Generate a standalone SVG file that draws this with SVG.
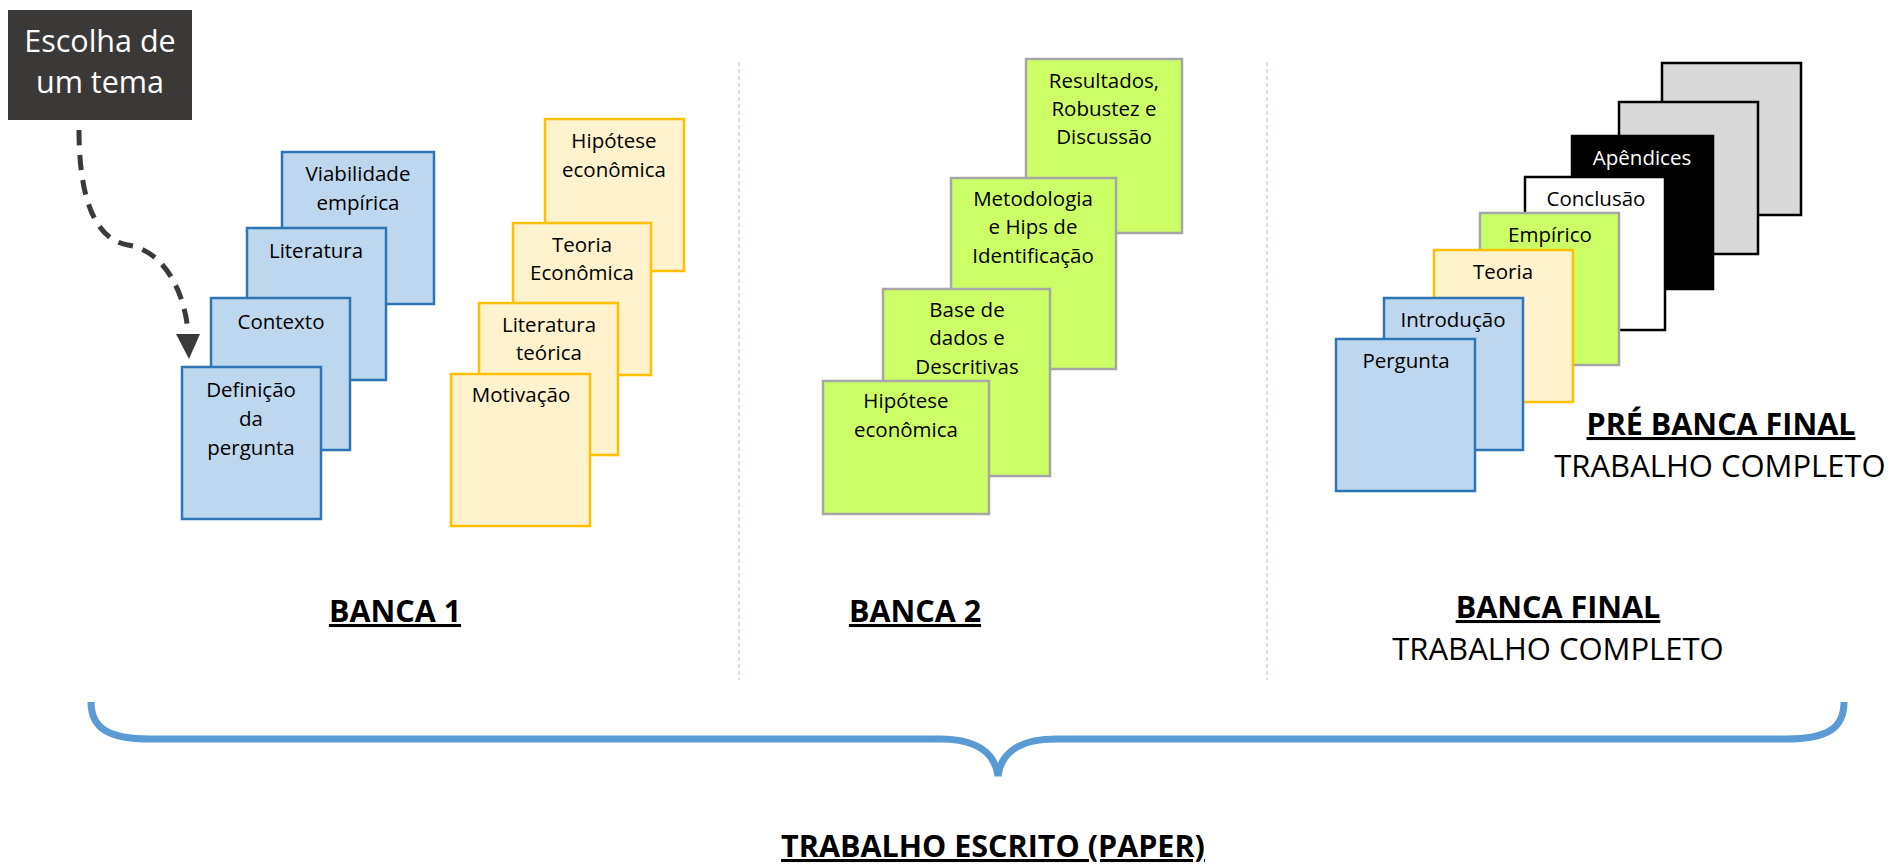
<svg xmlns="http://www.w3.org/2000/svg" width="1898" height="864" viewBox="0 0 1898 864">
<defs>
<style>
text{font-family:"Open Sans","Noto Sans","Liberation Sans",sans-serif;fill:#000}
.lbl{font-size:20.5px;text-anchor:middle}
.head{font-size:30.5px;font-weight:bold;text-anchor:middle;text-decoration:underline}
.sub{font-size:31px;text-anchor:middle}
.blue{fill:#bdd7ee;stroke:#2e75b6;stroke-width:2.5}
.yel{fill:#fff2cc;stroke:#ffc000;stroke-width:2.5}
.grn{fill:#ccff66;stroke:#a6a6a6;stroke-width:2.5}
.gry{fill:#d9d9d9;stroke:#000;stroke-width:2.5}
.wht{fill:#fff;stroke:#000;stroke-width:2.5}
.blk{fill:#000;stroke:#000;stroke-width:2.5}
.div{stroke:#9dc3e6;stroke-width:1;stroke-dasharray:4 3;fill:none}
</style>
</defs>
<rect width="1898" height="864" fill="#fff"/>

<g id="dividers">
<line class="div" x1="739" y1="62" x2="739" y2="680"/>
<line class="div" x1="1267" y1="62" x2="1267" y2="680"/>
</g>

<g id="tema">
<rect x="8" y="10" width="184" height="110" fill="#3a3938"/>
<text x="100" y="52" style="font-size:30.5px;text-anchor:middle;fill:#fff">Escolha de</text>
<text x="100" y="93" style="font-size:30.5px;text-anchor:middle;fill:#fff">um tema</text>
</g>

<g id="connectors">
<path d="M79,130 C79,198 95,240 128,245 C166,251 185,295 188,332" fill="none" stroke="#3a3a3a" stroke-width="5" stroke-dasharray="15 10"/>
<polygon points="176,334 200,334 189,359" fill="#3a3a3a"/>
</g>

<g id="banca1-blue">
<g id="viabilidade"><rect class="blue" x="282" y="152" width="152" height="152"/><text class="lbl" x="358" y="181">Viabilidade</text><text class="lbl" x="358" y="210">empírica</text></g>
<g id="literatura"><rect class="blue" x="247" y="228" width="139" height="152"/><text class="lbl" x="316" y="258">Literatura</text></g>
<g id="contexto"><rect class="blue" x="211" y="298" width="139" height="152"/><text class="lbl" x="281" y="329">Contexto</text></g>
<g id="definicao"><rect class="blue" x="182" y="367" width="139" height="152"/><text class="lbl" x="251" y="397">Definição</text><text class="lbl" x="251" y="426">da</text><text class="lbl" x="251" y="455">pergunta</text></g>
</g>

<g id="banca1-yellow">
<g id="hipotese1"><rect class="yel" x="545" y="119" width="139" height="152"/><text class="lbl" x="614" y="148">Hipótese</text><text class="lbl" x="614" y="177">econômica</text></g>
<g id="teoria1"><rect class="yel" x="513" y="223" width="138" height="152"/><text class="lbl" x="582" y="252">Teoria</text><text class="lbl" x="582" y="280">Econômica</text></g>
<g id="littoerica"><rect class="yel" x="479" y="303" width="139" height="152"/><text class="lbl" x="549" y="332">Literatura</text><text class="lbl" x="549" y="360">teórica</text></g>
<g id="motivacao"><rect class="yel" x="451" y="374" width="139" height="152"/><text class="lbl" x="521" y="402">Motivação</text></g>
</g>

<g id="banca2-green">
<g id="resultados"><rect class="grn" x="1026" y="59" width="156" height="174"/><text class="lbl" x="1104" y="88">Resultados,</text><text class="lbl" x="1104" y="116">Robustez e</text><text class="lbl" x="1104" y="144">Discussão</text></g>
<g id="metodologia"><rect class="grn" x="951" y="178" width="165" height="191"/><text class="lbl" x="1033" y="206">Metodologia</text><text class="lbl" x="1033" y="234">e Hips de</text><text class="lbl" x="1033" y="263">Identificação</text></g>
<g id="basedados"><rect class="grn" x="883" y="289" width="167" height="187"/><text class="lbl" x="967" y="317">Base de</text><text class="lbl" x="967" y="345">dados e</text><text class="lbl" x="967" y="374">Descritivas</text></g>
<g id="hipotese2"><rect class="grn" x="823" y="381" width="166" height="133"/><text class="lbl" x="906" y="408">Hipótese</text><text class="lbl" x="906" y="437">econômica</text></g>
</g>

<g id="final-stack">
<g id="gray1"><rect class="gry" x="1662" y="63" width="139" height="152"/></g>
<g id="gray2"><rect class="gry" x="1619" y="102" width="139" height="152"/></g>
<g id="apendices"><rect class="blk" x="1572" y="136" width="141" height="153"/><text class="lbl" x="1642" y="165" style="fill:#fff">Apêndices</text></g>
<g id="conclusao"><rect class="wht" x="1525" y="177" width="140" height="153"/><text class="lbl" x="1596" y="206">Conclusão</text></g>
<g id="empirico"><rect class="grn" x="1480" y="213" width="139" height="152"/><text class="lbl" x="1550" y="242">Empírico</text></g>
<g id="teoria2"><rect class="yel" x="1434" y="250" width="139" height="152"/><text class="lbl" x="1503" y="279">Teoria</text></g>
<g id="introducao"><rect class="blue" x="1384" y="298" width="139" height="152"/><text class="lbl" x="1453" y="327">Introdução</text></g>
<g id="pergunta"><rect class="blue" x="1336" y="339" width="139" height="152"/><text class="lbl" x="1406" y="368">Pergunta</text></g>
</g>

<g id="labels">
<text class="head" x="1721" y="435">PRÉ BANCA FINAL</text>
<text class="sub" x="1720" y="477">TRABALHO COMPLETO</text>
<text class="head" x="395" y="622">BANCA 1</text>
<text class="head" x="915" y="622">BANCA 2</text>
<text class="head" x="1558" y="618">BANCA FINAL</text>
<text class="sub" x="1558" y="660">TRABALHO COMPLETO</text>
<text class="head" x="993" y="857">TRABALHO ESCRITO (PAPER)</text>
</g>

<g id="brace">
<path d="M91,702 C91,728 108,739 150,739 L940,739 C975,739 995,752 998,776 C1001,752 1021,739 1056,739 L1786,739 C1828,739 1844,728 1844,702" fill="none" stroke="#5b9bd5" stroke-width="7"/>
</g>
</svg>
